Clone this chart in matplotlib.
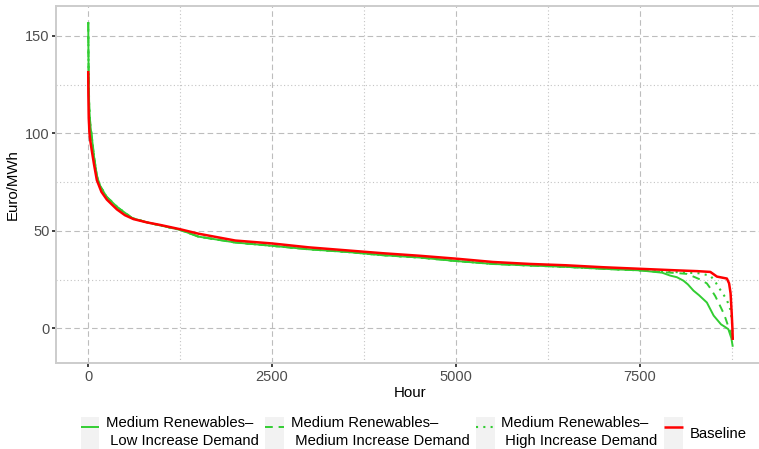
import matplotlib
matplotlib.use('Agg')
import matplotlib.pyplot as plt
from matplotlib.legend_handler import HandlerLine2D
from matplotlib.patches import Rectangle
from matplotlib.lines import Line2D
from matplotlib.ticker import FixedLocator

plt.rcParams['font.family'] = ['Liberation Sans', 'DejaVu Sans']

# ---------------- data ----------------
green_body_hours = [1, 2, 4, 8, 15, 30, 50, 80, 120, 163, 250, 400, 600, 800, 1000,
                    1250, 1500, 2000, 2500, 3000, 3500, 4000, 4500, 5000, 5500, 6000,
                    6500, 7000, 7500]
green_body_price = [157, 152, 140, 125, 113, 104, 98, 88, 78, 73, 67.5, 62, 56.5, 54.3, 52.6,
                    50.5, 47, 44, 42.3, 40.5, 39.2, 37.5, 36.3, 34.5, 33, 32.2,
                    31.5, 30.5, 29.7]

low_tail_hours = [7800, 7911, 8000, 8090, 8150, 8226, 8300, 8408, 8500, 8600, 8650, 8700, 8740, 8760]
low_tail_price = [28.5, 27, 26.2, 24.4, 22.5, 19.3, 17, 13.2, 6.5, 2, 0.8, -0.5, -5, -9.5]

medium_tail_hours = [7800, 8000, 8135, 8226, 8318, 8408, 8455, 8522, 8600, 8644, 8703, 8740, 8760]
medium_tail_price = [28.8, 28.3, 27.9, 26.5, 25, 23, 20.5, 16.5, 10.5, 7, 0.5, -3, -7]

high_tail_hours = [7800, 8000, 8300, 8455, 8520, 8568, 8630, 8680, 8726, 8748, 8760]
high_tail_price = [29.0, 28.8, 28.2, 27, 24, 21, 17.5, 14.5, 9.7, 4, -8]

baseline_hours = [1, 3, 8, 18, 30, 50, 80, 118, 180, 254, 390, 500, 616, 800, 979, 1250, 1500,
                  2000, 2500, 3000, 3500, 4000, 4500, 5000, 5500, 6000, 6500, 7000, 7500,
                  8000, 8280, 8455, 8545, 8680, 8710, 8730, 8745, 8755, 8760]
baseline_price = [132, 120, 108, 100, 96, 91, 84, 76, 70, 66, 61, 58, 56, 54.3, 53, 50.8, 48.5,
                  45, 43.5, 41.5, 40, 38.5, 37.2, 35.7, 34, 33, 32.3, 31.3, 30.5,
                  29.7, 29.3, 28.9, 26.5, 25.5, 23, 18, 8, 0, -6]

labels = ["Medium Renewables\u2013\n Low Increase Demand",
          "Medium Renewables\u2013\n Medium Increase Demand",
          "Medium Renewables\u2013\n High Increase Demand",
          "Baseline"]

x_major = [0, 2500, 5000, 7500]
x_minor = [1250, 3750, 6250, 8750]
y_major = [0, 50, 100, 150]
y_minor = [25, 75, 125]

series = [
    (green_body_hours + low_tail_hours, green_body_price + low_tail_price),
    (green_body_hours + medium_tail_hours, green_body_price + medium_tail_price),
    (green_body_hours + high_tail_hours, green_body_price + high_tail_price),
    (baseline_hours, baseline_price),
]
colors = ['#32CD32', '#32CD32', '#32CD32', '#FF0000']
styles = ['-', (0, (4, 3)), (0, (1, 2.5)), '-']
widths = [1.4, 1.4, 1.5, 1.8]

# ---------------- figure ----------------
W, H = 759, 449
fig = plt.figure(figsize=(W / 100, H / 100), dpi=100)
ax = fig.add_axes([56 / W, 86 / H, (765 - 56) / W, (443 - 86) / H])

for (hx, py), c, ls, lw, lab in zip(series, colors, styles, widths, labels):
    ax.plot(hx, py, color=c, linestyle=ls, linewidth=lw, label=lab,
            solid_capstyle='butt', dash_capstyle='butt')

all_x = [v for s in series for v in s[0]]
all_y = [v for s in series for v in s[1]]
xr = max(all_x) - min(all_x)
yr = max(all_y) - min(all_y)
ax.set_xlim(min(all_x) - 0.05 * xr, max(all_x) + 0.05 * xr)
ax.set_ylim(min(all_y) - 0.05 * yr, max(all_y) + 0.05 * yr)

ax.xaxis.set_major_locator(FixedLocator(x_major))
ax.xaxis.set_minor_locator(FixedLocator(x_minor))
ax.yaxis.set_major_locator(FixedLocator(y_major))
ax.yaxis.set_minor_locator(FixedLocator(y_minor))
ax.set_xticklabels([str(v) for v in x_major])
ax.set_yticklabels([str(v) for v in y_major])

ax.grid(which='major', color='#bdbdbd', linewidth=0.8, linestyle=(0, (5, 3)))
ax.grid(which='minor', color='#c4c4c4', linewidth=0.8, linestyle=(0, (1, 2.2)))
ax.set_axisbelow(True)

ax.tick_params(which='major', length=3.2, width=1.3, color='#333333',
               labelsize=10.5, labelcolor='#4d4d4d', pad=1.5)
ax.tick_params(which='minor', length=0)

for sp in ax.spines.values():
    sp.set_color('#cccccc')
    sp.set_linewidth(1.4)

ax.set_xlabel('Hour', fontsize=10.8, labelpad=2)
ax.set_ylabel('Euro/MWh', fontsize=10.8, labelpad=4)


class KeyHandler(HandlerLine2D):
    def create_artists(self, legend, orig_handle, xdescent, ydescent,
                       width, height, fontsize, trans):
        bg = Rectangle((-xdescent, -ydescent), width, height,
                       facecolor='#f2f2f2', edgecolor='none', transform=trans)
        arts = super().create_artists(legend, orig_handle, xdescent, ydescent,
                                      width, height, fontsize, trans)
        return [bg] + arts


handles, labs = ax.get_legend_handles_labels()
leg = fig.legend(handles, labs, loc='lower center',
                 bbox_to_anchor=(413.5 / W, 0.0), ncol=4, frameon=False,
                 fontsize=10.7, handlelength=1.25, handleheight=2.9,
                 handletextpad=0.45, columnspacing=0.45, borderpad=0.0,
                 borderaxespad=0.0,
                 handler_map={Line2D: KeyHandler()})
for t in leg.get_texts():
    t.set_linespacing(1.3)

fig.savefig('out.png', dpi=100)
